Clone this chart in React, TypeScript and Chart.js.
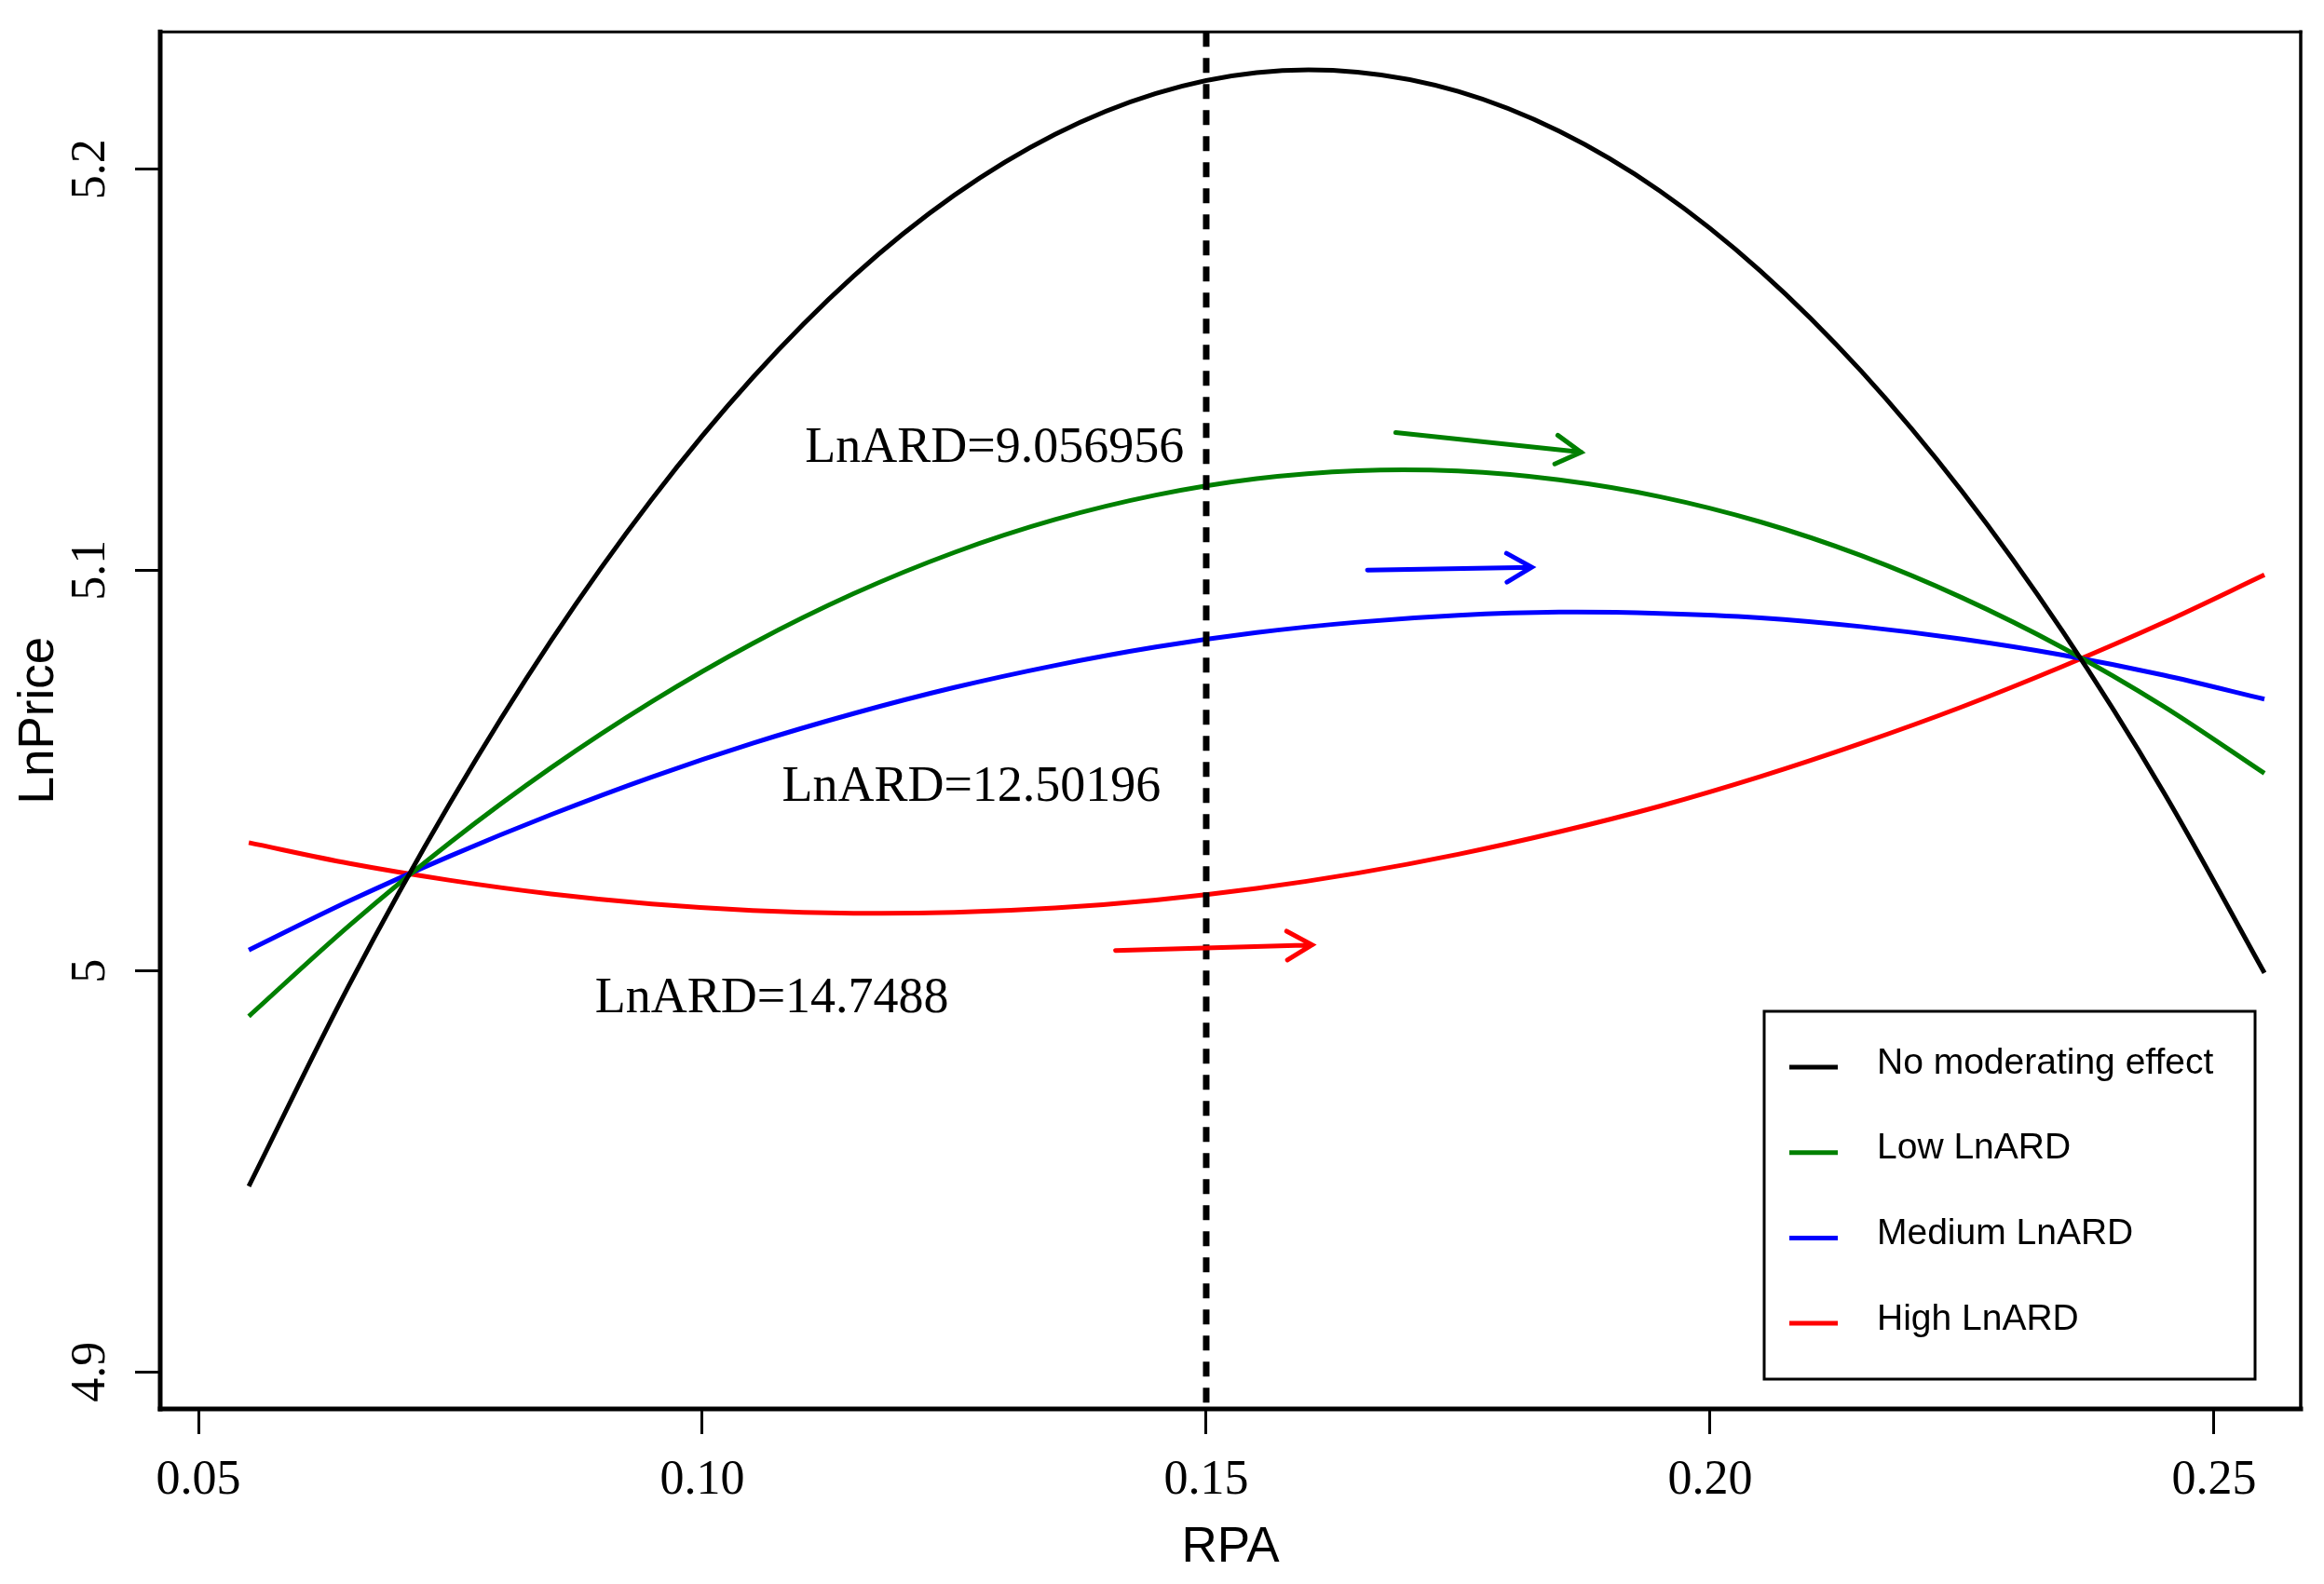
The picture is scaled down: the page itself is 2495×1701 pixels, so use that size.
import React, { useEffect, useRef } from 'react';
import { Chart, registerables } from 'chart.js';
import type { ChartConfiguration, Plugin } from 'chart.js';

Chart.register(...registerables);

const RPA = [
  0.055, 0.065, 0.075, 0.085, 0.095, 0.105, 0.115, 0.125, 0.135, 0.145, 0.155,
  0.165, 0.175, 0.185, 0.195, 0.205, 0.215, 0.225, 0.235, 0.245, 0.255,
];

const NO_EFFECT = [
  4.9463, 4.9967, 5.042, 5.0824, 5.1177, 5.148, 5.1733, 5.1935, 5.2087, 5.2189, 5.2241,
  5.2242, 5.2194, 5.2095, 5.1946, 5.1746, 5.1496, 5.1196, 5.0846, 5.0446, 4.9995,
];
const LOW_LNARD = [
  4.9887, 5.0114, 5.0321, 5.0507, 5.0672, 5.0817, 5.0941, 5.1044, 5.1126, 5.1187, 5.1228,
  5.1248, 5.1247, 5.1225, 5.1183, 5.112, 5.1036, 5.0931, 5.0806, 5.066, 5.0493,
];
const MEDIUM_LNARD = [
  5.0052, 5.0175, 5.0287, 5.039, 5.0484, 5.0568, 5.0642, 5.0707, 5.0762, 5.0808, 5.0844,
  5.087, 5.0887, 5.0895, 5.0892, 5.0881, 5.0859, 5.0828, 5.0788, 5.0738, 5.0678,
];
const HIGH_LNARD = [
  5.032, 5.0268, 5.0226, 5.0192, 5.0167, 5.0151, 5.0144, 5.0146, 5.0157, 5.0177, 5.0206,
  5.0244, 5.0291, 5.0347, 5.0411, 5.0485, 5.0568, 5.0659, 5.076, 5.0869, 5.0988,
];

const SERIES = [NO_EFFECT, LOW_LNARD, MEDIUM_LNARD, HIGH_LNARD];
const SERIES_NAMES = ['No moderating effect', 'Low LnARD', 'Medium LnARD', 'High LnARD'];
const SERIES_COLORS = ['#000000', '#008000', '#0000ff', '#ff0000'];

const X_TICKS = [0.05, 0.1, 0.15, 0.2, 0.25];
const X_TICK_LABELS = ['0.05', '0.10', '0.15', '0.20', '0.25'];
const Y_TICKS = [4.9, 5.0, 5.1, 5.2];
const Y_TICK_LABELS = ['4.9', '5', '5.1', '5.2'];

// axis extents (R pads the data range)
const X_MIN = 0.04621;
const X_MAX = 0.2586;
const Y_MIN = 4.89074;
const Y_MAX = 5.23426;

// reference line and annotations, in data units
const REF_RPA = 0.15;
const NOTE_TEXTS = ['LnARD=9.056956', 'LnARD=12.50196', 'LnARD=14.7488'];
const NOTE_RPA = [0.129, 0.1267, 0.1069];
const NOTE_PRICE = [5.1271, 5.0424, 4.9898];

const ARROW_FROM_RPA = [0.1688, 0.166, 0.141];
const ARROW_FROM_PRICE = [5.1343, 5.1, 5.0051];
const ARROW_TO_RPA = [0.1872, 0.1823, 0.1605];
const ARROW_TO_PRICE = [5.1294, 5.1007, 5.0065];
const ARROW_COLORS = ['#008000', '#0000ff', '#ff0000'];

const SERIF = '"Liberation Serif", "Times New Roman", serif';
const SANS = '"Liberation Sans", Arial, sans-serif';

const refLinePlugin: Plugin<'line'> = {
  id: 'refLine',
  afterDatasetsDraw(chart) {
    const { ctx, chartArea, scales } = chart;
    const x = scales.x.getPixelForValue(REF_RPA);
    ctx.save();
    ctx.strokeStyle = '#000';
    ctx.lineWidth = 7;
    ctx.setLineDash([16, 12]);
    ctx.beginPath();
    ctx.moveTo(x, chartArea.top);
    ctx.lineTo(x, chartArea.bottom);
    ctx.stroke();
    ctx.restore();
  },
};

const notesPlugin: Plugin<'line'> = {
  id: 'notes',
  afterDatasetsDraw(chart) {
    const { ctx, scales } = chart;
    ctx.save();
    ctx.font = `54px ${SERIF}`;
    ctx.fillStyle = '#000';
    ctx.textAlign = 'center';
    ctx.textBaseline = 'alphabetic';
    NOTE_TEXTS.forEach((t, i) => {
      ctx.fillText(t, scales.x.getPixelForValue(NOTE_RPA[i]), scales.y.getPixelForValue(NOTE_PRICE[i]));
    });

    ctx.lineWidth = 5;
    ctx.lineCap = 'round';
    ARROW_COLORS.forEach((c, i) => {
      const x0 = scales.x.getPixelForValue(ARROW_FROM_RPA[i]);
      const y0 = scales.y.getPixelForValue(ARROW_FROM_PRICE[i]);
      const x1 = scales.x.getPixelForValue(ARROW_TO_RPA[i]);
      const y1 = scales.y.getPixelForValue(ARROW_TO_PRICE[i]);
      const ang = Math.atan2(y1 - y0, x1 - x0);
      const head = 31;
      const spread = Math.PI / 6;
      ctx.strokeStyle = c;
      ctx.beginPath();
      ctx.moveTo(x0, y0);
      ctx.lineTo(x1, y1);
      ctx.moveTo(x1 - head * Math.cos(ang - spread), y1 - head * Math.sin(ang - spread));
      ctx.lineTo(x1, y1);
      ctx.lineTo(x1 - head * Math.cos(ang + spread), y1 - head * Math.sin(ang + spread));
      ctx.stroke();
    });
    ctx.restore();
  },
};

const framePlugin: Plugin<'line'> = {
  id: 'frame',
  afterDraw(chart) {
    const { ctx, chartArea: a, scales } = chart;
    ctx.save();
    ctx.strokeStyle = '#000';
    ctx.lineCap = 'square';
    const side = (w: number, x0: number, y0: number, x1: number, y1: number) => {
      ctx.lineWidth = w;
      ctx.beginPath();
      ctx.moveTo(x0, y0);
      ctx.lineTo(x1, y1);
      ctx.stroke();
    };
    side(3, a.left, a.top, a.right, a.top);
    side(3.5, a.right, a.top, a.right, a.bottom);
    side(5, a.left, a.bottom, a.right, a.bottom);
    side(5, a.left, a.top, a.left, a.bottom);

    // rotated y tick labels, as R draws them
    ctx.font = `52px ${SERIF}`;
    ctx.fillStyle = '#000';
    ctx.textAlign = 'center';
    ctx.textBaseline = 'middle';
    Y_TICKS.forEach((v, i) => {
      ctx.save();
      ctx.translate(scales.y.left + 98, scales.y.getPixelForValue(v));
      ctx.rotate(-Math.PI / 2);
      ctx.fillText(Y_TICK_LABELS[i], 0, 0);
      ctx.restore();
    });

    // legend box in the lower right corner
    const bx = a.right - 576;
    const by = a.bottom - 427;
    const bw = 527;
    const bh = 395;
    ctx.fillStyle = '#fff';
    ctx.fillRect(bx, by, bw, bh);
    ctx.lineWidth = 3;
    ctx.strokeRect(bx, by, bw, bh);
    ctx.font = `39px ${SANS}`;
    ctx.textAlign = 'left';
    ctx.textBaseline = 'middle';
    SERIES_NAMES.forEach((name, i) => {
      const ly = by + 60 + i * 91.7;
      ctx.strokeStyle = SERIES_COLORS[i];
      ctx.lineWidth = 5;
      ctx.lineCap = 'butt';
      ctx.beginPath();
      ctx.moveTo(bx + 27, ly);
      ctx.lineTo(bx + 79, ly);
      ctx.stroke();
      ctx.fillStyle = '#000';
      ctx.fillText(name, bx + 121, ly - 4);
    });
    ctx.restore();
  },
};

const App: React.FC = () => {
  const canvasRef = useRef<HTMLCanvasElement | null>(null);
  const chartRef = useRef<Chart<'line'> | null>(null);

  useEffect(() => {
    const canvas = canvasRef.current;
    if (!canvas) return;
    const ctx = canvas.getContext('2d');
    if (!ctx) return;

    const config: ChartConfiguration<'line'> = {
      type: 'line',
      data: {
        datasets: SERIES.map((vals, i) => ({
          label: SERIES_NAMES[i],
          data: RPA.map((x, j) => ({ x, y: vals[j] })),
          borderColor: SERIES_COLORS[i],
          backgroundColor: SERIES_COLORS[i],
          borderWidth: 5,
          pointRadius: 0,
          tension: 0.33,
          fill: false,
        })),
      },
      options: {
        animation: false,
        responsive: true,
        maintainAspectRatio: false,
        devicePixelRatio: 1,
        layout: { padding: { top: 29, right: 25, left: 0, bottom: 0 } },
        plugins: {
          legend: { display: false },
          tooltip: { enabled: false },
        },
        scales: {
          x: {
            type: 'linear',
            min: X_MIN,
            max: X_MAX,
            afterBuildTicks: (s) => {
              s.ticks = X_TICKS.map((v) => ({ value: v }));
            },
            afterFit: (s) => {
              s.height = 188;
            },
            ticks: {
              callback: (_v, i) => X_TICK_LABELS[i],
              font: { family: SERIF, size: 52 },
              color: '#000',
              padding: 19,
              maxRotation: 0,
              autoSkip: false,
            },
            grid: {
              drawOnChartArea: false,
              drawTicks: true,
              tickLength: 27,
              tickWidth: 3,
              tickColor: '#000',
            },
            border: { display: false },
            title: {
              display: true,
              text: 'RPA',
              color: '#000',
              font: { family: SANS, size: 53 },
              padding: { top: 0, bottom: 7 },
            },
          },
          y: {
            type: 'linear',
            min: Y_MIN,
            max: Y_MAX,
            afterBuildTicks: (s) => {
              s.ticks = Y_TICKS.map((v) => ({ value: v }));
            },
            afterFit: (s) => {
              s.width = 172;
            },
            ticks: {
              color: 'rgba(0,0,0,0)',
              font: { family: SERIF, size: 52 },
            },
            grid: {
              drawOnChartArea: false,
              drawTicks: true,
              tickLength: 27,
              tickWidth: 3,
              tickColor: '#000',
            },
            border: { display: false },
            title: {
              display: true,
              text: 'LnPrice',
              color: '#000',
              font: { family: SANS, size: 53 },
              padding: { top: 11, bottom: 0 },
            },
          },
        },
      },
      plugins: [refLinePlugin, notesPlugin, framePlugin],
    };

    chartRef.current = new Chart(ctx, config);
    return () => {
      chartRef.current?.destroy();
      chartRef.current = null;
    };
  }, []);

  return (
    <div
      style={{
        position: 'fixed',
        left: 0,
        top: 0,
        width: 2495,
        height: 1701,
        background: '#fff',
      }}
    >
      <canvas ref={canvasRef} />
    </div>
  );
};

export default App;
